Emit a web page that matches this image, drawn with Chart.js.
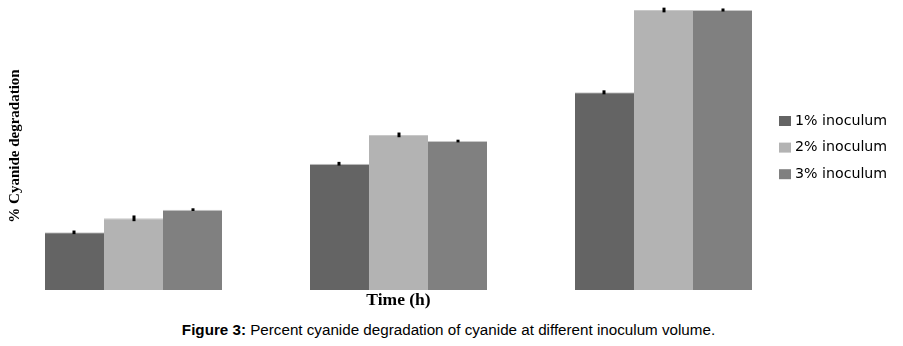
<!DOCTYPE html>
<html>
<head>
<meta charset="utf-8">
<script src="https://cdn.jsdelivr.net/npm/chart.js@4.4.1/dist/chart.umd.min.js"></script>
<style>
  html, body { margin: 0; padding: 0; background: #fff; }
  #wrap { position: relative; width: 903px; height: 346px; }
  #chartBox { position: absolute; left: 0; top: 0; width: 903px; height: 316px; }
  #caption {
    position: absolute; left: -3px; top: 321px; width: 903px;
    text-align: center; font: 15.2px "Liberation Sans", Arial, sans-serif; color: #000;
  }
</style>
</head>
<body>
<div id="wrap">
  <div id="chartBox"><canvas id="degradationChart"></canvas></div>
  <div id="caption"><b>Figure 3:</b> Percent cyanide degradation of cyanide at different inoculum volume.</div>
</div>
<script>
// time points (axis labels are not printed on the figure)
const timePoints = ['24', '48', '72'];

const seriesNames = ['1% inoculum', '2% inoculum', '3% inoculum'];
const seriesColors = ['#646464', '#b3b3b3', '#808080'];

// % degradation per inoculum volume
const inoculum1 = [20.6, 45.1, 70.6];
const inoculum2 = [25.6, 55.4, 100];
const inoculum3 = [28.7, 53.2, 100];

// standard error
const err1 = [0.64, 0.66, 0.71];
const err2 = [1.02, 0.84, 0.84];
const err3 = [0.48, 0.48, 0.54];

const values = [inoculum1, inoculum2, inoculum3];
const errors = [err1, err2, err3];

// error bars on top of each bar
const errorBars = {
    id: 'errorBars',
    afterDatasetsDraw(chart) {
        const ctx = chart.ctx;
        const y = chart.scales.y;
        ctx.save();
        ctx.fillStyle = '#000';
        chart.data.datasets.forEach((ds, i) => {
            const meta = chart.getDatasetMeta(i);
            meta.data.forEach((bar, j) => {
                const v = ds.data[j], e = errors[i][j];
                const top = y.getPixelForValue(v + e);
                const bottom = y.getPixelForValue(v - e);
                ctx.fillRect(Math.round(bar.x) - 1.5, top, 3, Math.max(bottom - top, 2));
            });
        });
        ctx.restore();
    }
};

// axis titles and legend at the right
const decorations = {
    id: 'decorations',
    afterDraw(chart) {
        const ctx = chart.ctx;
        const area = chart.chartArea;
        ctx.save();
        ctx.fillStyle = '#000';
        ctx.textAlign = 'center';
        ctx.textBaseline = 'middle';
        ctx.font = 'bold 17.5px "Liberation Serif", "Times New Roman", serif';
        ctx.fillText('Time (h)', (area.left + area.right) / 2, 300);

        ctx.font = 'bold 15px "Liberation Serif", "Times New Roman", serif';
        ctx.translate(15, 146);
        ctx.rotate(-Math.PI / 2);
        ctx.fillText('% Cyanide degradation', 0, 0);
        ctx.restore();

        ctx.save();
        ctx.font = '14.2px "DejaVu Sans", sans-serif';
        ctx.textBaseline = 'middle';
        ctx.textAlign = 'left';
        chart.data.datasets.forEach((ds, i) => {
            const cy = 121 + i * 26.6;
            ctx.fillStyle = ds.backgroundColor;
            ctx.fillRect(779, cy - 5, 12, 10);
            ctx.fillStyle = '#000';
            ctx.fillText(ds.label, 795, cy);
        });
        ctx.restore();
    }
};

new Chart(document.getElementById('degradationChart'), {
    type: 'bar',
    data: {
        labels: timePoints,
        datasets: seriesNames.map((name, i) => ({
            label: name,
            data: values[i],
            backgroundColor: seriesColors[i],
            borderColor: '#c8c8c8',
            borderWidth: { top: 1, left: 0, right: 0, bottom: 0 },
            borderSkipped: false
        }))
    },
    options: {
        responsive: true,
        maintainAspectRatio: false,
        animation: false,
        layout: { padding: { left: 1, right: 107, top: 10, bottom: 26 } },
        datasets: {
            bar: { barPercentage: 1, categoryPercentage: 0.668 }
        },
        scales: {
            x: { display: false },
            y: { display: false, min: 0, max: 100 }
        },
        plugins: {
            legend: { display: false },
            tooltip: { enabled: false }
        }
    },
    plugins: [errorBars, decorations]
});
</script>
</body>
</html>
